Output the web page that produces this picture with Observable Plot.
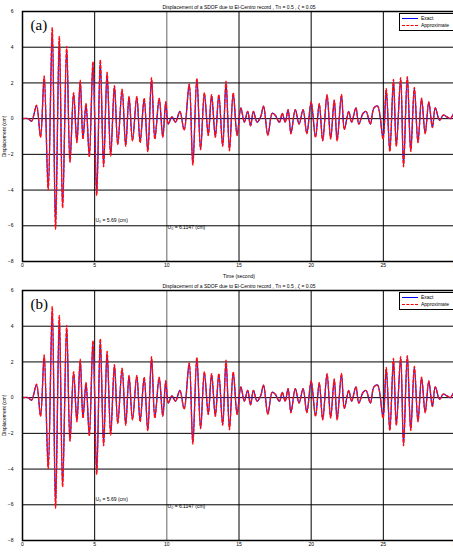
<!DOCTYPE html>
<html><head><meta charset="utf-8">
<script src="https://cdn.jsdelivr.net/npm/d3@7"></script>
<script src="https://cdn.jsdelivr.net/npm/@observablehq/plot@0.6"></script>
<style>
body{margin:0;background:#fff;font-family:Arial,"Liberation Sans",sans-serif}
.panel{position:absolute;left:0}
.legend{position:absolute;border:1.5px solid #000;background:#fff;font-size:5px;width:49px;padding:1px 2px;line-height:7px}
.legend span{display:inline-block;width:16px;height:0;vertical-align:middle;margin-right:3px}
</style></head><body>
<script>
// peak / trough times (s) and displacement (cm)
const peakT = [0,0.4,0.62,0.97,1.25,1.5,1.78,2.06,2.29,2.55,2.78,3.06,3.29,3.54,3.77,4.0,4.19,4.4,4.63,4.88,5.14,5.39,5.62,5.86,6.11,6.37,6.6,6.9,7.15,7.38,7.62,7.92,8.15,8.43,8.68,8.94,9.17,9.47,9.72,9.93,10.1,10.35,10.6,10.9,11.2,11.55,11.8,12.08,12.34,12.6,12.87,13.1,13.36,13.6,13.87,14.1,14.34,14.6,14.87,15.13,15.37,15.6,15.8,16.0,16.25,16.5,16.7,17.0,17.3,17.5,17.8,18.0,18.2,18.4,18.6,18.9,19.16,19.44,19.7,20.0,20.3,20.56,20.8,21.1,21.35,21.6,21.8,22.1,22.3,22.6,22.8,23.1,23.3,23.6,23.8,24.1,24.35,24.6,24.98,25.2,25.45,25.7,25.9,26.2,26.4,26.66,26.9,27.15,27.4,27.65,27.9,28.15,28.4,28.6,28.9,29.15,29.4,29.65,29.9,30];
const exactU = [0,0,-0.15,0.7,-1.0,2.3,-3.9,4.9,-6.0,4.5,-4.9,3.9,-2.4,1.4,-1.3,2.1,-1.1,0.8,-2.1,3.1,-4.2,3.2,-2.6,2.5,-2.0,1.8,-1.4,1.6,-1.5,1.2,-1.2,1.2,-1.3,1.1,-1.8,2.2,-1.1,1.1,-1.0,0.9,-0.3,0.1,-0.2,0.4,-0.6,1.9,-2.5,2.2,-1.7,1.4,-0.9,1.3,-1.0,1.3,-1.5,2.0,-1.7,1.4,-0.9,0.6,-0.2,0.4,-0.4,0.4,-0.2,0.1,0.7,-0.9,0.3,0.2,-0.2,0.3,-0.2,0.5,-0.8,0.5,-0.3,0.5,-0.8,0.9,-1.0,0.8,-1.2,1.3,-1.1,1.0,-1.2,1.3,-0.6,0.4,-0.2,0.6,-0.3,0.3,0.4,-0.3,0.6,0.7,-1.1,1.6,-1.8,2.1,-1.5,2.2,-2.6,2.3,-1.8,1.7,-1.3,1.1,-0.8,0.9,-0.5,0.6,-0.1,0.2,0.1,0.0,0.3,0.2];
const approxU = [0,0,-0.15,0.75,-1.05,2.4,-4.0,5.1,-6.2,4.6,-5.0,4.05,-2.45,1.45,-1.35,2.15,-1.15,0.85,-2.15,3.2,-4.3,3.3,-2.7,2.6,-2.1,1.85,-1.45,1.65,-1.55,1.25,-1.25,1.25,-1.35,1.15,-1.85,2.3,-1.15,1.15,-1.05,0.95,-0.3,0.1,-0.2,0.4,-0.65,1.95,-2.6,2.25,-1.75,1.45,-0.95,1.35,-1.05,1.35,-1.55,2.1,-1.8,1.45,-0.95,0.6,-0.2,0.4,-0.4,0.4,-0.2,0.1,0.7,-0.95,0.3,0.2,-0.2,0.3,-0.2,0.5,-0.85,0.5,-0.3,0.5,-0.85,0.95,-1.05,0.85,-1.25,1.35,-1.15,1.05,-1.25,1.35,-0.6,0.4,-0.2,0.6,-0.3,0.3,0.4,-0.3,0.6,0.7,-1.15,1.7,-1.85,2.2,-1.55,2.3,-2.7,2.35,-1.85,1.75,-1.35,1.15,-0.85,0.95,-0.5,0.6,-0.1,0.2,0.1,0.0,0.3,0.2];
const xTicks = [0,5,10,15,20,25,30];
const yTicks = [-8,-6,-4,-2,0,2,4,6];
const titleText = "Displacement of a SDOF due to El-Centro record , Tn = 0.5 , \u03b6 = 0.05";
const notes = [{x:5.05, y:-5.7, t:"U\u2080 = 5.69 (cm)"},{x:10.05, y:-6.1, t:"U\u2080 = 6.1147 (cm)"}];

const exact = peakT.map((t,i)=>({t, u: exactU[i]}));
const approx = peakT.map((t,i)=>({t, u: approxU[i]}));

function panel(label, top, exactColor) {
  const chart = Plot.plot({
    width: 453, height: 281,
    marginTop: 11, marginBottom: 20, marginLeft: 22, marginRight: -2,
    style: {fontSize: "5px", fontFamily: "Arial, Liberation Sans, sans-serif", overflow: "visible"},
    x: {domain: [0,30], ticks: xTicks, tickSize: 0, tickPadding: 2, label: "Time (second)", labelArrow: "none", labelAnchor: "center", labelOffset: 16},
    y: {domain: [-8,6], ticks: yTicks, tickSize: 0, label: "Displacement (cm)", labelArrow: "none", labelAnchor: "center", labelOffset: 20},
    marks: [
      Plot.gridX(xTicks, {stroke: d => d === 10 ? "#666" : "#000", strokeOpacity: 1, strokeWidth: 1}),
      Plot.gridY(yTicks, {stroke: "#000", strokeOpacity: 1, strokeWidth: 1}),
      Plot.line(exact, {x: "t", y: "u", stroke: "#1010ff", strokeWidth: 1.3, curve: "catmull-rom"}),
      Plot.line(approx, {x: "t", y: "u", stroke: "#ff1010", strokeWidth: 1.3, strokeDasharray: "3,2", curve: "catmull-rom"}),
      Plot.text(notes, {x: "x", y: "y", text: "t", textAnchor: "start", fontSize: 5}),
      Plot.text([label], {frameAnchor: "top-left", dx: 8, dy: 8, fontSize: 15, fontFamily: "Times New Roman, Liberation Serif, serif"}),
      Plot.text([titleText], {frameAnchor: "top", dy: -6, fontSize: 5}),
      Plot.frame({stroke: "#000", strokeWidth: 1.5})
    ]
  });
  const wrap = document.createElement("div");
  wrap.className = "panel";
  wrap.style.top = top + "px";
  wrap.append(chart);
  const lg = document.createElement("div");
  lg.className = "legend";
  lg.style.left = "399px"; lg.style.top = "13px";
  lg.innerHTML = `<div><span style="border-top:1.2px solid ${exactColor}"></span>Exact</div><div><span style="border-top:1.2px dashed #f00"></span>Approximate</div>`;
  wrap.append(lg);
  document.body.append(wrap);
}
panel("(a)", 0, "#00f");
panel("(b)", 279, "#00f");
</script>
</body></html>
